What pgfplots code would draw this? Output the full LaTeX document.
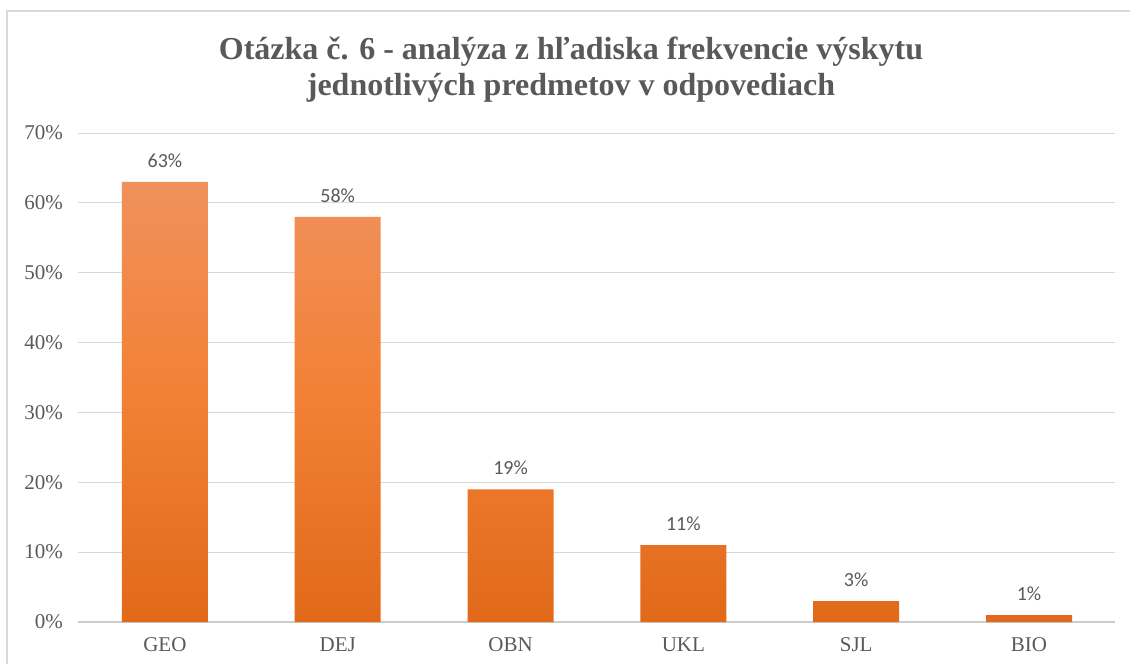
\documentclass[border=0pt]{standalone}
\usepackage{fontspec}
\setmainfont{Liberation Serif}
\newfontfamily\calib{Carlito}
\usepackage{pgfplots}
\pgfplotsset{compat=1.18}
\usetikzlibrary{calc}
\definecolor{txt}{RGB}{89,89,89}
\definecolor{gridc}{RGB}{217,217,217}
\definecolor{axc}{RGB}{205,205,205}
\definecolor{btop}{RGB}{240,145,92}
\definecolor{bmid}{RGB}{242,128,52}
\definecolor{bbot}{RGB}{225,105,25}
\begin{document}
\begin{tikzpicture}[x=1pt,y=1pt]
\begin{axis}[
  name=ax, anchor=south west,
  scale only axis, width=1037pt, height=489pt,
  xmin=-0.5, xmax=5.5, ymin=0, ymax=70,
  ytick={0,10,...,70},
  yticklabel={\pgfmathprintnumber{\tick}\%},
  xtick=data, xticklabels={GEO,DEJ,OBN,UKL,SJL,BIO},
  major tick length=0pt,
  axis x line*=bottom, axis y line*=left,
  x axis line style={axc, line width=1.2pt, -},
  y axis line style={draw=none},
  ymajorgrids, grid style={gridc, line width=1pt},
  tick label style={text=txt, font=\fontsize{21}{24}\selectfont},
  /pgf/number format/assume math mode=true,
  yticklabel style={anchor=east, xshift=-12pt},
  xticklabel style={anchor=north, yshift=-12pt},
  ybar, bar width=86pt,
  nodes near coords={\pgfmathprintnumber{\pgfplotspointmeta}\%},
  nodes near coords style={text=txt, font=\calib\fontsize{20}{24}\selectfont, anchor=south, yshift=11pt},
  clip=false,
]
\addplot[draw=none, top color=btop, bottom color=bbot, middle color=bmid] coordinates {(0,63) (1,58) (2,19) (3,11) (4,3) (5,1)};
\end{axis}
\pgfresetboundingbox
\coordinate (O) at ($(ax.south west)+(-78.5,-42)$);
\useasboundingbox (O) rectangle ++(1130,664);
\draw[gridc, line width=1.5pt] ($(O)+(7,-10)$) -- ($(O)+(7,653)$) -- ($(O)+(1140,653)$);
\node[text=txt, font=\bfseries\fontsize{32}{36}\selectfont, anchor=base] at ($(O)+(571,604)$) {Otázka č. 6 - analýza z hľadiska frekvencie výskytu};
\node[text=txt, font=\bfseries\fontsize{32}{36}\selectfont, anchor=base] at ($(O)+(571,568)$) {jednotlivých predmetov v odpovediach};
\end{tikzpicture}
\end{document}
